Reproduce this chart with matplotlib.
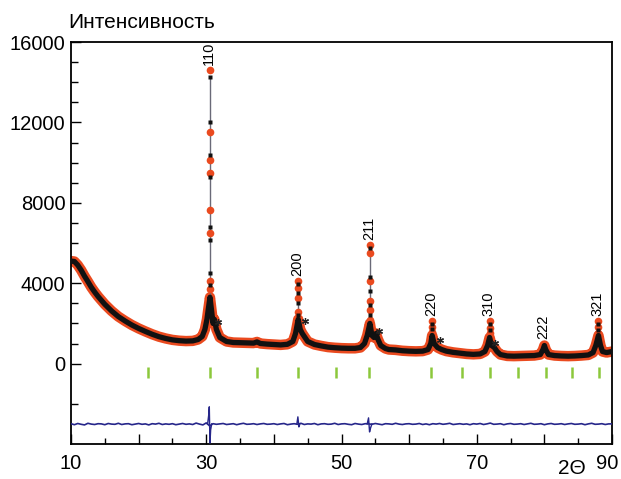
import numpy as np
import matplotlib.pyplot as plt
from matplotlib.ticker import FixedLocator
from matplotlib.transforms import ScaledTranslation

plt.rcParams['font.family'] = ['Liberation Sans', 'DejaVu Sans']

# broad profile (background + peak feet)
prof_tt = [10.0, 10.5, 11.0, 11.5, 12.0, 12.5, 13.0, 13.5, 14.0, 15.0, 16.0, 17.0, 18.0,
           19.0, 20.0, 21.0, 22.0, 23.0, 24.0, 25.0, 26.0, 27.0, 28.0, 28.8, 29.4, 29.8,
           30.1, 30.3, 30.55, 30.8, 31.0, 31.2, 31.5, 32.0, 33.0, 34.0, 35.0, 36.0, 37.0,
           37.5, 38.0, 39.0, 40.0, 41.0, 42.0, 42.8, 43.2, 43.6, 43.9, 44.2, 44.5, 45.0,
           46.0, 47.0, 48.0, 49.0, 50.0, 51.0, 52.0, 52.8, 53.4, 53.8, 54.2, 54.5, 54.8,
           55.1, 55.4, 55.8, 56.5, 57.0, 58.0, 59.0, 60.0, 61.0, 62.0, 62.8, 63.2, 63.4,
           63.7, 64.2, 64.8, 65.5, 66.5, 67.5, 68.5, 69.5, 70.5, 71.2, 71.6, 71.9, 72.2,
           72.6, 73.0, 73.5, 74.5, 75.5, 76.5, 77.5, 78.5, 79.4, 79.8, 80.0, 80.2, 80.6,
           81.5, 82.5, 83.5, 84.5, 85.5, 86.5, 87.2, 87.6, 88.0, 88.3, 88.6, 89.2, 90.0]
prof_int = [5100, 5080, 4900, 4650, 4350, 4080, 3800, 3560, 3340, 2950, 2620, 2340, 2120,
            1920, 1750, 1600, 1460, 1340, 1250, 1180, 1140, 1120, 1130, 1200, 1350, 1700,
            2200, 2700, 3300, 2600, 2000, 2200, 1700, 1300, 1100, 1050, 1040, 1030, 1020,
            1080, 1000, 970, 950, 930, 960, 1100, 1500, 2200, 1700, 1500, 1350, 1100,
            950, 880, 820, 790, 770, 760, 760, 800, 1000, 1400, 2000, 1400, 1300,
            1500, 1200, 900, 750, 700, 680, 640, 620, 610, 620, 700, 1000, 1400,
            1000, 800, 700, 620, 560, 520, 480, 460, 480, 600, 900, 1300, 900,
            800, 600, 450, 380, 370, 380, 390, 400, 450, 700, 900, 700, 450,
            400, 380, 370, 380, 400, 430, 550, 900, 1400, 900, 600, 550, 600]

# sharp peaks: observed (red) and calculated (black) points
peak_tt = [30.55, 43.6, 54.2, 63.4, 71.9, 80.0, 88.0]
peak_hkl = ['110', '200', '211', '220', '310', '222', '321']
peak_base = [3300, 2200, 2000, 1400, 1300, 900, 1400]
peak_obs = [[14600, 11500, 10150, 9500, 7650, 6500, 4100, 3700],
            [4090, 3780, 3280, 2580, 2190],
            [5920, 5500, 4090, 3100, 2680, 2190],
            [2100, 1800, 1550],
            [2100, 1750, 1500],
            [950],
            [2100, 1800, 1500]]
peak_calc = [[14250, 12000, 10400, 9300, 6800, 6150, 4500, 3900],
             [3950, 3500, 3000, 2400],
             [5750, 4300, 3600, 2900, 2400],
             [1950, 1700],
             [1950, 1650],
             [900],
             [1950, 1650]]

# impurity marks (*)
star_tt = [31.8, 44.6, 55.5, 64.6, 72.7]
star_int = [2050, 2140, 1600, 1190, 1040]

# Bragg positions
bragg_tt = [21.4, 30.5, 37.5, 43.6, 49.2, 54.1, 63.3, 67.8, 72.0, 76.1, 80.2, 84.1, 88.1]

# difference curve (obs - calc, shifted), every 0.5 deg from 10 to 90
diff_int = [-2990, -3040, -2980, -3020, -3050, -2970, -3010, -3030, -2990, -3000,
            -3040, -2980, -3010, -3020, -2970, -3030, -3000, -2990, -3040, -3010,
            -2980, -3020, -3000, -3050, -2990, -3010, -2970, -3030, -3000, -3020,
            -2990, -3040, -3010, -2980, -3020, -3000, -3030, -2960, -3010, -3050,
            -2950, -3100, -2990, -3020, -3000, -2980, -3030, -3010, -2990, -3040,
            -3000, -2970, -3020, -3010, -2990, -3030, -3000, -2980, -3020, -3010,
            -2990, -3030, -3000, -2980, -3040, -3010, -2990, -3020, -2970, -3030,
            -3000, -3010, -2980, -3040, -3000, -2990, -3020, -3010, -2970, -3030,
            -3000, -2990, -3020, -3040, -2980, -3010, -3030, -2990, -3000, -3020,
            -2980, -3010, -3040, -2990, -3000, -3020, -2970, -3010, -3030, -3000,
            -2990, -3020, -3010, -2980, -3030, -3000, -3040, -2990, -3010, -2980,
            -3020, -3000, -2970, -3030, -3010, -2990, -3020, -3000, -3040, -2990,
            -3010, -2980, -3030, -3000, -2960, -3020, -3010, -2990, -3040, -3000,
            -2980, -3020, -3010, -2990, -3030, -3000, -2970, -3020, -3010, -2990,
            -3040, -3000, -2980, -3020, -3010, -2990, -3030, -3000, -2980, -3020,
            -3010, -2990, -3040, -3000, -2970, -3020, -3010, -2990, -3030, -3000,
            -3000]
spike_tt = [[30.2, 30.35, 30.45, 30.55, 30.65, 30.8],
            [43.4, 43.55, 43.7, 43.85],
            [53.8, 54.0, 54.15, 54.3, 54.5]]
spike_int = [[-3000, -2600, -2150, -3950, -3300, -3000],
             [-3000, -2650, -3150, -3000],
             [-3000, -2700, -3400, -3200, -3000]]

xtick_pos = [10, 20, 30, 40, 50, 60, 70, 80, 90]
xtick_lab = ['10', '', '30', '', '50', '', '70', '', '90']

red = '#ea4a1f'
fig = plt.figure(figsize=(6.21, 4.79), dpi=100)
ax = fig.add_axes([71 / 621, 1 - 444 / 479, 541 / 621, 402 / 479])

# observed band + calculated band
ax.plot(prof_tt, prof_int, color=red, lw=7.5, solid_capstyle='round',
        solid_joinstyle='round', zorder=2)
ax.plot(prof_tt, prof_int, color='#111111', lw=3.8, solid_capstyle='round',
        solid_joinstyle='round', zorder=4)

for x, base, obs, calc in zip(peak_tt, peak_base, peak_obs, peak_calc):
    ax.plot([x, x], [base, max(calc)], color='#6a6a78', lw=1.0, zorder=3)
    ax.plot([x] * len(obs), obs, 'o', color=red, ms=5.5, mec='none', zorder=3)
    ax.plot([x] * len(calc), calc, 's', color='#111111', ms=2.8, mec='none', zorder=5)

for x, obs, lab in zip(peak_tt, peak_obs, peak_hkl):
    ax.text(x - 0.1, max(obs) + 250, lab, rotation=90, ha='center', va='bottom',
            fontsize=10.5)

ax.plot(star_tt, star_int, ls='none', marker=(6, 2, 0), ms=5, mew=0.9,
        color='#222222', zorder=6)

ax.vlines(bragg_tt, -700, -150, color='#8cc83c', lw=1.8)

diff_tt = np.arange(10, 90.01, 0.5)
ax.plot(diff_tt, diff_int, color='#26268a', lw=1.2, zorder=3)
for sx, sy in zip(spike_tt, spike_int):
    ax.plot(sx, sy, color='#26268a', lw=1.0, zorder=3)

ax.set_xlim(10, 90)
ax.set_ylim(-4000, 16000)
ax.xaxis.set_major_locator(FixedLocator(xtick_pos))
ax.xaxis.set_minor_locator(FixedLocator([15, 25, 35, 45, 55, 65, 75, 85]))
ax.set_xticklabels(xtick_lab)
ax.yaxis.set_major_locator(FixedLocator([0, 4000, 8000, 12000, 16000]))
ax.yaxis.set_minor_locator(FixedLocator([-2000] + [v for v in range(1000, 16000, 1000) if v % 4000]))
ax.tick_params(axis='both', which='both', direction='in', labelsize=14.5, width=1.0)
ax.tick_params(axis='x', which='major', length=7, pad=7)
ax.tick_params(axis='x', which='minor', length=4)
ax.tick_params(axis='y', which='major', length=7, pad=4)
ax.tick_params(axis='y', which='minor', length=5)
for s in ax.spines.values():
    s.set_linewidth(1.3)

# keep the last x label inside the figure
last = ax.get_xticklabels()[-1]
last.set_transform(last.get_transform() + ScaledTranslation(-5 / 100, 0, fig.dpi_scale_trans))

fig.text(68 / 621, 1 - 22 / 479, 'Интенсивность', fontsize=15, va='center', ha='left')
fig.text(572 / 621, 1 / 479, '2Θ', fontsize=15, va='bottom', ha='center')

plt.savefig('out.png', dpi=100)
